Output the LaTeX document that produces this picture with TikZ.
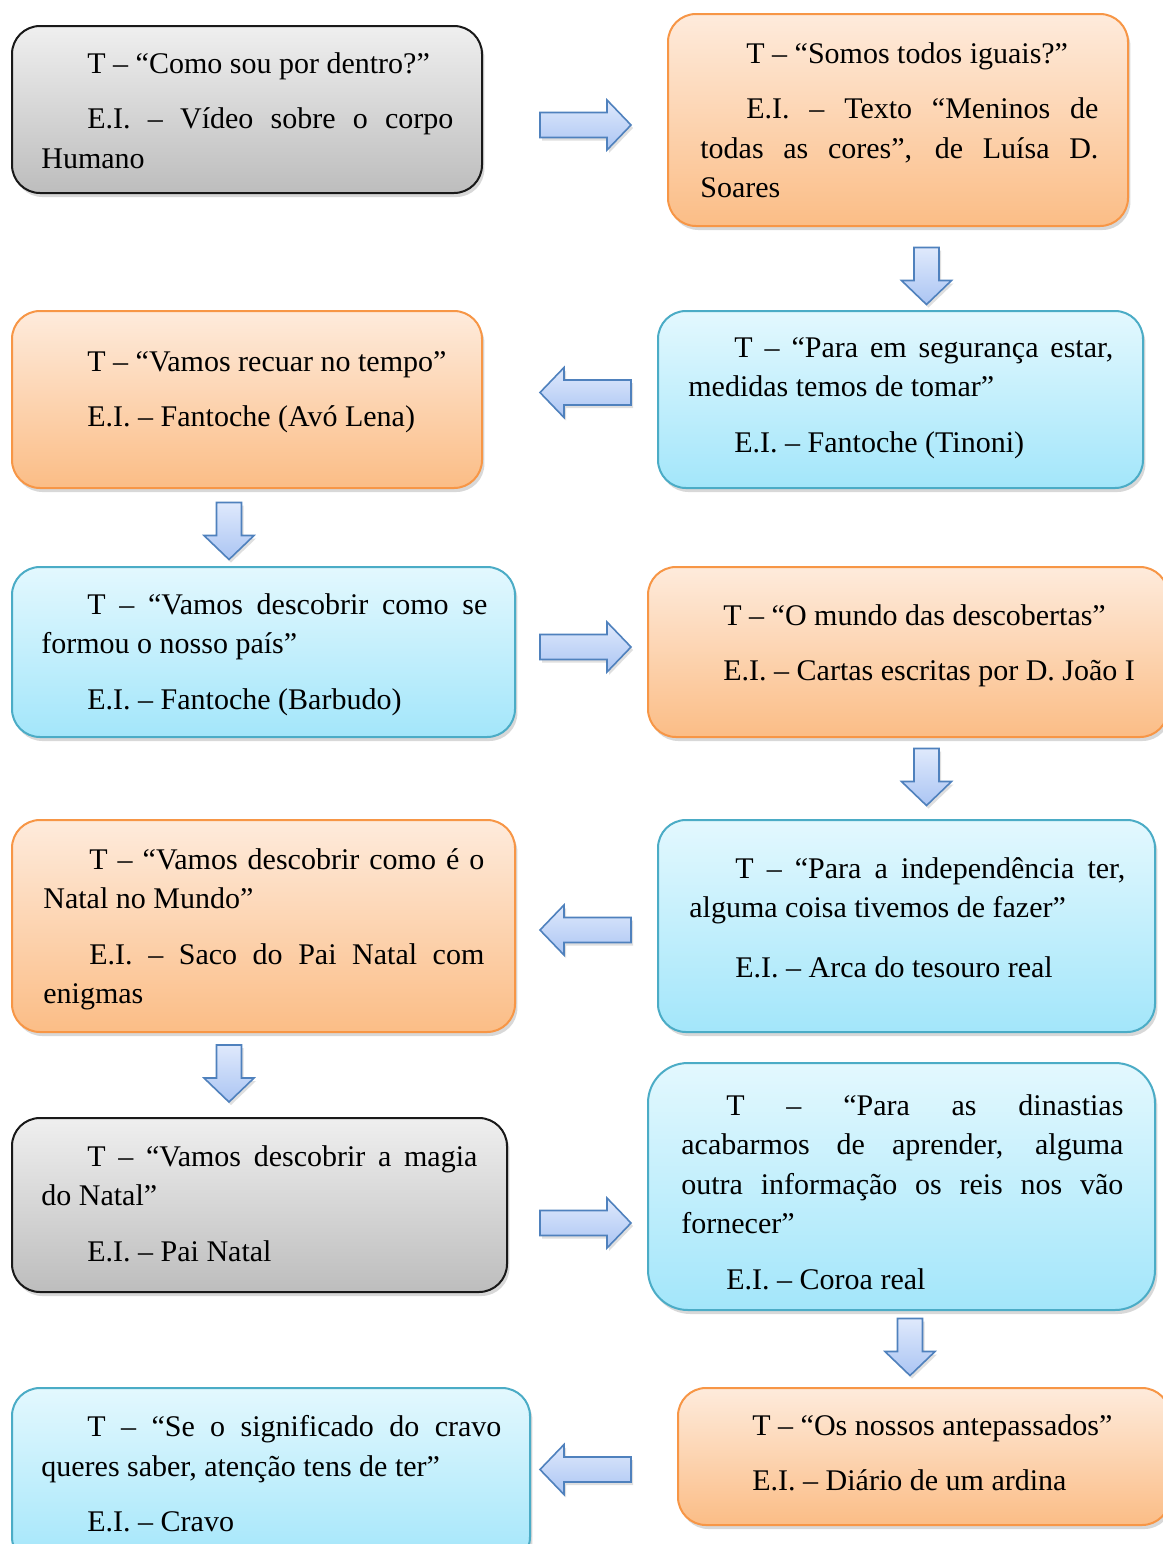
\documentclass[tikz,border=0pt]{standalone}
\usepackage{fontspec}
\setmainfont{Liberation Serif}
\usetikzlibrary{shadows}

\definecolor{orTop}{HTML}{FEEBDC}
\definecolor{orBot}{HTML}{FBBD86}
\definecolor{orEdge}{HTML}{F79646}
\definecolor{blTop}{HTML}{E3F8FE}
\definecolor{blBot}{HTML}{A3E6FA}
\definecolor{blEdge}{HTML}{4BACC6}
\definecolor{grTop}{HTML}{EFEFEF}
\definecolor{grBot}{HTML}{BDBDBD}
\definecolor{arTop}{HTML}{DFE9FC}
\definecolor{arBot}{HTML}{ABC5F3}
\definecolor{arEdge}{HTML}{4F81BD}

\newcommand{\ind}{\hspace*{23pt}}
\newcommand{\fullline}[2]{\makebox[#1][s]{#2}}

\begin{document}
\begin{tikzpicture}[
    x=0.5pt,y=-0.5pt,
    card/.style={draw,line width=1pt,rounded corners=14pt,
      drop shadow={shadow xshift=1.2pt,shadow yshift=-2pt,opacity=.3}},
    taskor/.style={card,draw=orEdge,top color=orTop,bottom color=orBot},
    taskbl/.style={card,draw=blEdge,top color=blTop,bottom color=blBot},
    taskgr/.style={card,draw=black!90,top color=grTop,bottom color=grBot},
    txt/.style={anchor=north west,inner sep=0pt,align=left,
      font=\fontsize{15}{19.75}\selectfont},
    arrowbody/.style={draw=arEdge,line width=.8pt,top color=arTop,bottom color=arBot,
      drop shadow={shadow xshift=1pt,shadow yshift=-1.5pt,opacity=.25}},
    blockarrow/.pic={
      \path[arrowbody] ({-#1/2},-12.5) -- ({#1/2-24},-12.5) -- ({#1/2-24},-25)
        -- ({#1/2},0) -- ({#1/2-24},25) -- ({#1/2-24},12.5) -- ({-#1/2},12.5) -- cycle;
    }
  ]
  \fill[white] (0,0) rectangle (1163,1544);
  \useasboundingbox (0,0) rectangle (1163,1544);

  % Boxes
  \node[taskgr,minimum width=235pt,minimum height=83.5pt] (b1) at (247,109.5) {};
  \node[taskor,minimum width=230pt,minimum height=106pt] (b2) at (898,120) {};
  \node[taskbl,minimum width=242.5pt,minimum height=88.5pt] (b3) at (900.5,399.5) {};
  \node[taskor,minimum width=235pt,minimum height=88.5pt] (b4) at (247,399.5) {};
  \node[taskbl,minimum width=251.5pt,minimum height=85pt] (b5) at (263.5,652) {};
  \node[taskor,minimum width=260pt,minimum height=85pt] (b6) at (908,652) {};
  \node[taskbl,minimum width=248.5pt,minimum height=106pt] (b7) at (906.5,926) {};
  \node[taskor,minimum width=251.5pt,minimum height=106pt] (b8) at (263.5,926) {};
  \node[taskgr,minimum width=247.5pt,minimum height=87pt] (b9) at (259.5,1205) {};
  \node[taskbl,rounded corners=20pt,minimum width=253.5pt,minimum height=123.5pt] (b10) at (901.5,1186.5) {};
  \node[taskor,minimum width=246pt,minimum height=68.5pt] (b11) at (924,1456.5) {};
  \node[taskbl,minimum width=259pt,minimum height=88.5pt] (b12) at (271,1476.5) {};

  % Texts
  \node[txt] (t1) at (41,52) {\ind T – “Como sou por dentro?”\\[8pt]
    \ind\fullline{183pt}{E.I. – Vídeo sobre o corpo}\\
    Humano};
  \node[txt] (t2) at (700,42) {\ind T – “Somos todos iguais?”\\[8pt]
    \ind\fullline{176pt}{E.I. – Texto “Meninos de}\\
    \fullline{199pt}{todas as cores”, de Luísa D.}\\
    Soares};
  \node[txt] (t3) at (688,337) {\ind\fullline{189.5pt}{T – “Para em segurança estar,}\\
    medidas temos de tomar”\\[8pt]
    \ind E.I. – Fantoche (Tinoni)};
  \node[txt] (t4) at (41,351) {\ind T – “Vamos recuar no tempo”\\[8pt]
    \ind E.I. – Fantoche (Avó Lena)};
  \node[txt] (t5) at (41,593) {\ind\fullline{200pt}{T – “Vamos descobrir como se}\\
    formou o nosso país”\\[8pt]
    \ind E.I. – Fantoche (Barbudo)};
  \node[txt] (t6) at (677,604) {\ind T – “O mundo das descobertas”\\[8pt]
    \ind E.I. – Cartas escritas por D. João I};
  \node[txt] (t7) at (689,857) {\ind\fullline{195pt}{T – “Para a independência ter,}\\
    alguma coisa tivemos de fazer”\\[10pt]
    \ind E.I. – Arca do tesouro real};
  \node[txt] (t8) at (43,848) {\ind\fullline{197.5pt}{T – “Vamos descobrir como é o}\\
    Natal no Mundo”\\[8pt]
    \ind\fullline{197.5pt}{E.I. – Saco do Pai Natal com}\\
    enigmas};
  \node[txt] (t9) at (41,1145) {\ind\fullline{195pt}{T – “Vamos descobrir a magia}\\
    do Natal”\\[8pt]
    \ind E.I. – Pai Natal};
  \node[txt] (t10) at (681,1094) {\hspace*{22.5pt}\fullline{198.5pt}{T – “Para as dinastias}\\
    \fullline{221pt}{acabarmos de aprender, alguma}\\
    \fullline{221pt}{outra informação os reis nos vão}\\
    fornecer”\\[8pt]
    \hspace*{22.5pt}E.I. – Coroa real};
  \node[txt] (t11) at (706,1414) {\ind T – “Os nossos antepassados”\\[8pt]
    \ind E.I. – Diário de um ardina};
  \node[txt] (t12) at (41,1415) {\ind\fullline{207pt}{T – “Se o significado do cravo}\\
    queres saber, atenção tens de ter”\\[8pt]
    \ind E.I. – Cravo};

  % Block arrows
  \pic (a1) at (585.5,125) {blockarrow=91};
  \pic[rotate=-90] (a2) at (926.5,276) {blockarrow=57};
  \pic[rotate=180] (a3) at (585.5,392.5) {blockarrow=91};
  \pic[rotate=-90] (a4) at (229,531) {blockarrow=57};
  \pic (a5) at (585.5,647) {blockarrow=91};
  \pic[rotate=-90] (a6) at (926.5,777) {blockarrow=57};
  \pic[rotate=180] (a7) at (585.5,930) {blockarrow=91};
  \pic[rotate=-90] (a8) at (229,1073.5) {blockarrow=57};
  \pic (a9) at (585.5,1223) {blockarrow=91};
  \pic[rotate=-90] (a10) at (910,1347) {blockarrow=57};
  \pic[rotate=180] (a11) at (585.5,1469.5) {blockarrow=91};
\end{tikzpicture}
\end{document}
